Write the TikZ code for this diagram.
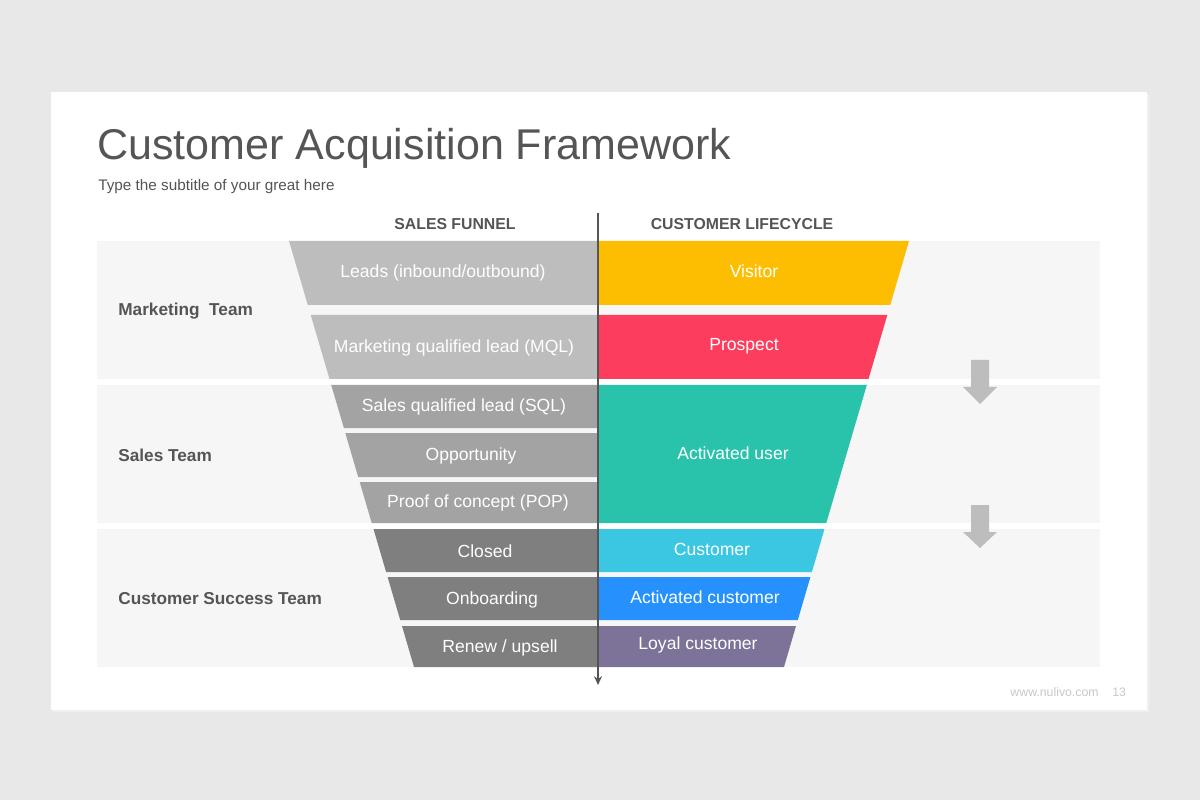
\documentclass[tikz,border=0pt]{standalone}
\usepackage{fontspec}
\setmainfont{Liberation Sans}
\usetikzlibrary{arrows.meta}

\definecolor{pagegray}{HTML}{E9E8E9}
\definecolor{bandgray}{HTML}{F6F6F6}
\definecolor{textdark}{HTML}{555555}
\definecolor{funnellight}{HTML}{BDBDBD}
\definecolor{funnelmid}{HTML}{A3A3A3}
\definecolor{funneldark}{HTML}{7F7F7F}
\definecolor{visitorcol}{HTML}{FDBD00}
\definecolor{prospectcol}{HTML}{FD3D5E}
\definecolor{actusercol}{HTML}{29C3AB}
\definecolor{customercol}{HTML}{3BC6E2}
\definecolor{actcustcol}{HTML}{2691FC}
\definecolor{loyalcol}{HTML}{7D7298}
\definecolor{footergray}{HTML}{C8C8C8}

\begin{document}
\begin{tikzpicture}[x=0.02cm, y=-0.02cm,
    rowtext/.style={text=white, font=\fontsize{10}{12}\selectfont},
    teamlabel/.style={anchor=west, inner sep=0pt, text=textdark, font=\bfseries\fontsize{9.8}{12}\selectfont},
    colhead/.style={anchor=base, text=textdark, font=\bfseries\fontsize{9}{11}\selectfont},
    downarrow/.style={fill=funnellight}]
    \useasboundingbox (0,0) rectangle (1200,800);

    % Page and slide
    \fill[pagegray] (0,0) rectangle (1200,800);
    \fill[black!6] (53,94) rectangle (1149,712);
    \fill[white] (51,92) rectangle (1147,710);

    % Title
    \node[anchor=base west, text=textdark, font=\fontsize{24.5}{30}\selectfont, inner sep=0pt] (title) at (97,160) {Customer Acquisition Framework};
    \node[anchor=base west, text=textdark, font=\fontsize{8.7}{10}\selectfont, inner sep=0pt] (subtitle) at (98,191) {Type the subtitle of your great here};

    % Team bands
    \fill[bandgray] (97,241) rectangle (1100,379);
    \fill[bandgray] (97,385) rectangle (1100,523);
    \fill[bandgray] (97,529) rectangle (1100,667);

    \node[teamlabel] (marketing) at (118,311) {Marketing~ Team};
    \node[teamlabel] (sales) at (118,455) {Sales Team};
    \node[teamlabel] (success) at (118,599) {Customer Success Team};

    % Column headers
    \node[colhead] (funnelhead) at (455,229.5) {SALES FUNNEL};
    \node[colhead] (lifehead) at (742,229.5) {CUSTOMER LIFECYCLE};

    % Sales funnel (left half)
    \fill[funnellight] (289,241) -- (598,241) -- (598,305) -- (307.8,305) -- cycle;
    \fill[funnellight] (310.7,315) -- (598,315) -- (598,379) -- (329.5,379) -- cycle;
    \fill[funnelmid] (331.2,385) -- (598,385) -- (598,428) -- (343.9,428) -- cycle;
    \fill[funnelmid] (345.3,433) -- (598,433) -- (598,477) -- (358.2,477) -- cycle;
    \fill[funnelmid] (359.7,482) -- (598,482) -- (598,523) -- (371.7,523) -- cycle;
    \fill[funneldark] (373.5,529) -- (598,529) -- (598,572) -- (386.1,572) -- cycle;
    \fill[funneldark] (387.6,577) -- (598,577) -- (598,620) -- (400.2,620) -- cycle;
    \fill[funneldark] (402,626) -- (598,626) -- (598,667) -- (414,667) -- cycle;

    \node[rowtext] (leads) at (443,273) {Leads (inbound/outbound)};
    \node[rowtext] (mql) at (454,348) {Marketing qualified lead (MQL)};
    \node[rowtext] (sql) at (464,407) {Sales qualified lead (SQL)};
    \node[rowtext] (opportunity) at (471,456) {Opportunity};
    \node[rowtext] (pop) at (478,503) {Proof of concept (POP)};
    \node[rowtext] (closed) at (485,551) {Closed};
    \node[rowtext] (onboarding) at (492,600) {Onboarding};
    \node[rowtext] (renew) at (500,648) {Renew / upsell};

    % Customer lifecycle (right half)
    \fill[visitorcol] (598,241) -- (909,241) -- (890.2,305) -- (598,305) -- cycle;
    \fill[prospectcol] (598,315) -- (887.3,315) -- (868.5,379) -- (598,379) -- cycle;
    \fill[actusercol] (598,385) -- (866.8,385) -- (826.3,523) -- (598,523) -- cycle;
    \fill[customercol] (598,529) -- (824.5,529) -- (811.9,572) -- (598,572) -- cycle;
    \fill[actcustcol] (598,577) -- (810.4,577) -- (797.8,620) -- (598,620) -- cycle;
    \fill[loyalcol] (598,626) -- (796,626) -- (784,667) -- (598,667) -- cycle;

    \node[rowtext] (visitor) at (754,271) {Visitor};
    \node[rowtext] (prospect) at (744,346) {Prospect};
    \node[rowtext] (actuser) at (733,453) {Activated user};
    \node[rowtext] (customer) at (712,549) {Customer};
    \node[rowtext] (actcust) at (705,597) {Activated customer};
    \node[rowtext] (loyal) at (698,645) {Loyal customer};

    % Axis between the two columns
    \coordinate (axtop) at (598,213);
    \coordinate (axbot) at (598,685);
    \draw[textdark, line width=1.1pt, -{Stealth[length=5pt, width=4.5pt]}] (axtop) -- (axbot);

    % Down arrows on the right
    \fill[downarrow] (971,360) -- (989,360) -- (989,387) -- (997,387) -- (980,404) -- (963,387) -- (971,387) -- cycle;
    \fill[downarrow] (971,505) -- (989,505) -- (989,532) -- (997,532) -- (980,548) -- (963,532) -- (971,532) -- cycle;

    % Footer
    \node[anchor=base east, text=footergray, font=\fontsize{7}{8}\selectfont, inner sep=0pt] (website) at (1099,696) {www.nulivo.com};
    \node[anchor=base west, text=footergray, font=\fontsize{7}{8}\selectfont, inner sep=0pt] (pagenum) at (1112,696) {13};
\end{tikzpicture}
\end{document}
